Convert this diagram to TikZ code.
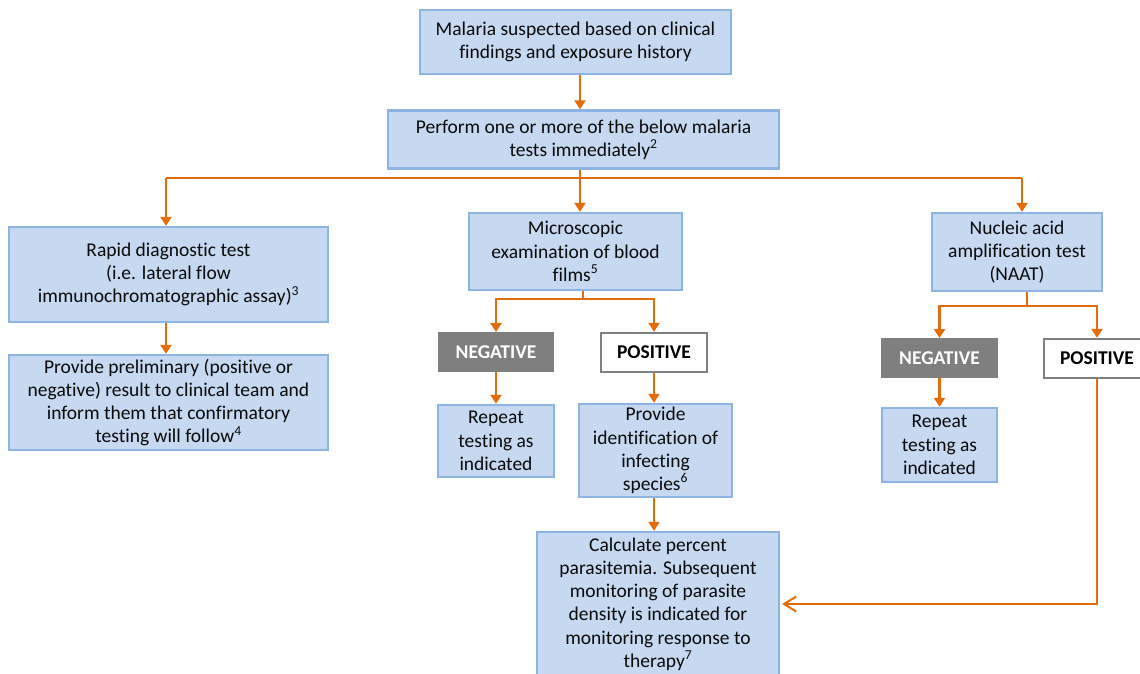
\documentclass[tikz,border=0pt]{standalone}
\usepackage{fontspec}
\setmainfont{Carlito}[Ligatures=NoCommon]
\usetikzlibrary{arrows.meta}

\definecolor{boxfill}{HTML}{C6D9F1}
\definecolor{boxline}{HTML}{8EB4E3}
\definecolor{flow}{HTML}{E46C0A}
\definecolor{result}{HTML}{7F7F7F}
\definecolor{txt}{HTML}{0A0A0A}

\newcommand{\boxfont}{\fontsize{19.5}{23.2}\selectfont}

\tikzset{
  bluebox/.style={draw=boxline, fill=boxfill, line width=2.4pt, align=center,
    inner sep=0pt, font=\boxfont, text=txt},
  negbox/.style={draw=result, fill=result, line width=2pt, align=center,
    inner sep=0pt, font=\boxfont\bfseries, text=white,
    minimum height=38pt},
  posbox/.style={draw=result, fill=white, line width=2.4pt, align=center,
    inner sep=0pt, font=\boxfont\bfseries, text=black,
    minimum height=39pt},
  link/.style={draw=flow, line width=2.6pt},
  arr/.style={link, -{Triangle[width=11pt,length=9pt]}},
  back/.style={draw=flow, line width=2pt, -{Straight Barb[width=15pt,length=12pt,line width=2pt]}},
}

\begin{document}
\begin{tikzpicture}[x=1pt, y=-1pt]
\useasboundingbox (0,0) rectangle (1140,673);
\clip (0,0) rectangle (1140,673);

% boxes
\node[bluebox, minimum width=311pt, minimum height=64pt] (top) at (575.5,42)
  {Malaria suspected based on clinical\\findings and exposure history};
\node[bluebox, minimum width=391pt, minimum height=58pt] (perf) at (583.5,139.5)
  {Perform one or more of the below malaria\\tests immediately\textsuperscript{2}};

\node[bluebox, minimum width=319pt, minimum height=95pt] (rdt) at (168.5,274.5)
  {Rapid diagnostic test\\(i.e. lateral flow\\immunochromatographic assay)\textsuperscript{3}};
\node[bluebox, minimum width=319pt, minimum height=95pt] (prelim) at (168.5,402.5)
  {Provide preliminary (positive or\\negative) result to clinical team and\\inform them that confirmatory\\testing will follow\textsuperscript{4}};

\node[bluebox, minimum width=213pt, minimum height=77pt] (micro) at (575.5,251.5)
  {Microscopic\\examination of blood\\films\textsuperscript{5}};
\node[negbox, minimum width=114pt] (neg1) at (496,352) {NEGATIVE};
\node[posbox, minimum width=106pt] (pos1) at (654,352.5) {POSITIVE};
\node[bluebox, minimum width=116pt, minimum height=72pt] (rep1) at (496,441)
  {Repeat\\testing as\\indicated};
\node[bluebox, minimum width=153pt, minimum height=93pt] (pid) at (655.5,450.5)
  {Provide\\identification of\\infecting\\species\textsuperscript{6}};
\node[bluebox, minimum width=242pt, minimum height=144pt] (calc) at (658,604)
  {Calculate percent\\parasitemia. Subsequent\\monitoring of parasite\\density is indicated for\\monitoring response to\\therapy\textsuperscript{7}};

\node[bluebox, minimum width=170pt, minimum height=78pt] (naat) at (1017,252)
  {Nucleic acid\\amplification test\\(NAAT)};
\node[negbox, minimum width=115pt] (neg2) at (939.5,358) {NEGATIVE};
\node[posbox, minimum width=106pt] (pos2) at (1097,358.5) {POSITIVE};
\node[bluebox, minimum width=115pt, minimum height=74pt] (rep2) at (939.5,445)
  {Repeat\\testing as\\indicated};

% branch points
\coordinate (f0) at (580,178);
\coordinate (fl) at (166,178);
\coordinate (fr) at (1022,178);
\coordinate (m0) at (583,299);
\coordinate (n0) at (1027,306);

% connectors
\draw[arr] (top.south -| f0) -- (perf.north -| f0);
\draw[link] (perf.south -| f0) -- (f0);
\draw[link] (fl) -- (fr);
\draw[arr] (fl) -- (rdt.north -| fl);
\draw[arr] (f0) -- (micro.north -| f0);
\draw[arr] (fr) -- (naat.north -| fr);
\draw[arr] (rdt.south -| fl) -- (prelim.north -| fl);

\draw[link] (micro.south -| m0) -- (m0);
\draw[arr] (m0) -| (neg1.north);
\draw[arr] (m0) -| (pos1.north);
\draw[arr] (neg1.south) -- (rep1.north);
\draw[arr] (pos1.south) -- (pos1.south |- pid.north);
\draw[arr] (pid.south -| pos1) -- (calc.north -| pos1);

\draw[link] (naat.south -| n0) -- (n0);
\draw[arr] (n0) -| (neg2.north);
\draw[arr] (n0) -| (pos2.north);
\draw[arr] (neg2.south) -- (rep2.north);
\draw[back] (pos2.south) |- ([xshift=2pt]calc.east);
\end{tikzpicture}
\end{document}
